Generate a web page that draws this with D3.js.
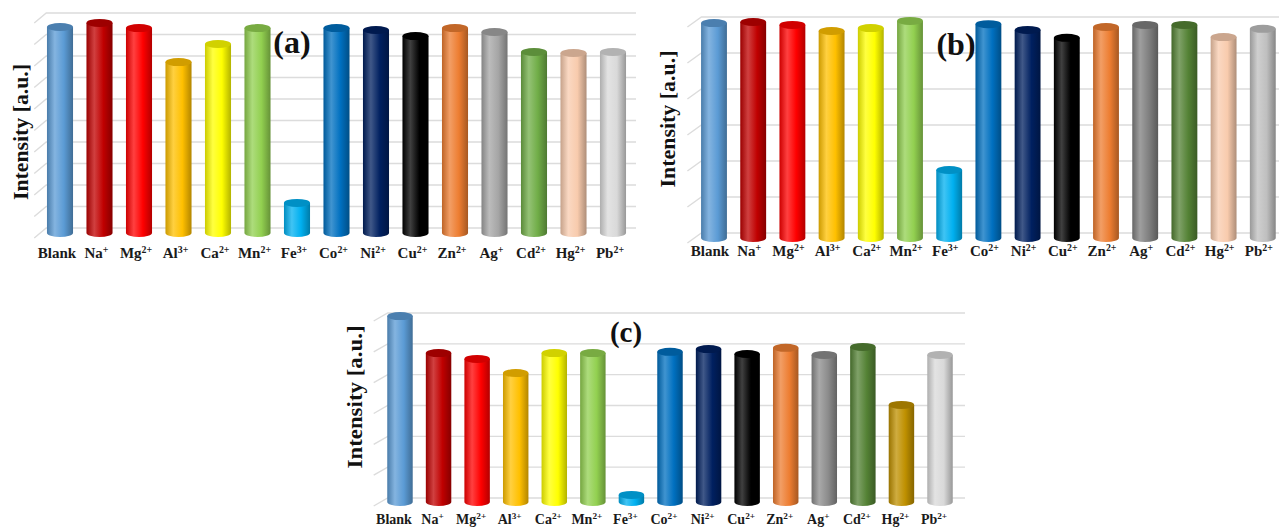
<!DOCTYPE html>
<html>
<head>
<meta charset="utf-8">
<script src="https://cdn.jsdelivr.net/npm/d3@7"></script>
<style>
body { margin: 0; background: #fff; }
svg text { font-family: "Liberation Serif", "Times New Roman", serif; font-weight: bold; }
</style>
</head>
<body>
<script>
// ions tested and their charges (drawn as superscripts)
const ions = ["Blank", "Na", "Mg", "Al", "Ca", "Mn", "Fe", "Co", "Ni", "Cu", "Zn", "Ag", "Cd", "Hg", "Pb"];
const charges = ["", "+", "2+", "3+", "2+", "2+", "3+", "2+", "2+", "2+", "2+", "+", "2+", "2+", "2+"];

// intensities, in gridline units
const valuesA = [9.58, 9.77, 9.53, 7.95, 8.79, 9.53, 1.40, 9.53, 9.44, 9.16, 9.53, 9.35, 8.42, 8.37, 8.42];
const valuesB = [5.97, 6.00, 5.92, 5.75, 5.83, 6.03, 1.89, 5.94, 5.78, 5.56, 5.86, 5.92, 5.92, 5.58, 5.81];
const valuesC = [6.03, 4.83, 4.64, 4.18, 4.83, 4.83, 0.23, 4.87, 4.96, 4.80, 5.00, 4.77, 5.03, 3.15, 4.77];

const colorsA = ["#5b9bd5", "#c00000", "#ff0000", "#ffc000", "#ffff00", "#92d050", "#00b0f0", "#0070c0",
  "#002060", "#000000", "#ed7d31", "#a5a5a5", "#70ad47", "#f8cbad", "#d9d9d9"];
const colorsB = ["#5b9bd5", "#c00000", "#ff0000", "#ffc000", "#ffff00", "#92d050", "#00b0f0", "#0070c0",
  "#002060", "#000000", "#ed7d31", "#7f7f7f", "#548235", "#f8cbad", "#bfbfbf"];
const colorsC = ["#5b9bd5", "#c00000", "#ff0000", "#ffc000", "#ffff00", "#92d050", "#00b0f0", "#0070c0",
  "#002060", "#000000", "#ed7d31", "#8c8c8c", "#548235", "#bf9000", "#d9d9d9"];

const maxA = 10, maxB = 6, maxC = 6;   // number of gridline intervals
const axisTitle = "Intensity [a.u.]";

const width = 1279, height = 528;
const svg = d3.select("body").append("svg")
  .attr("width", width)
  .attr("height", height);
const defs = svg.append("defs");

// layout of the three panels
const panels = [
  { tag: "(a)", values: valuesA, colors: colorsA, max: maxA,
    x0: 40.25, x1: 632.75, base: 233, top: 18, dx: 6, dy: 5, gridRight: 636,
    labelY: 258, labelSize: 15, labelShift: -3,
    titleX: 28, titleY: 132, titleSize: 21, titleLen: 136,
    tagX: 292, tagY: 53, tagSize: 32 },
  { tag: "(b)", values: valuesB, colors: colorsB, max: maxB,
    x0: 694.4, x1: 1282.4, base: 238, top: 22, dx: 7, dy: 5, gridRight: 1279,
    labelY: 256, labelSize: 15, labelShift: -4,
    titleX: 675, titleY: 119, titleSize: 21, titleLen: 137,
    tagX: 956, tagY: 55, tagSize: 32 },
  { tag: "(c)", values: valuesC, colors: colorsC, max: maxC,
    x0: 380.7, x1: 959.3, base: 502, top: 317, dx: 7, dy: 4, gridRight: 965,
    labelY: 524, labelSize: 14, labelShift: -6,
    titleX: 362, titleY: 397, titleSize: 21, titleLen: 143,
    tagX: 626, tagY: 342, tagSize: 29 }
];

panels.forEach(function(p, pi) {
  const x = d3.scaleBand()
    .domain(ions)
    .range([p.x0, p.x1])
    .paddingInner(0.34)
    .paddingOuter(0.17);
  const y = d3.scaleLinear()
    .domain([0, p.max])
    .range([p.base, p.top]);

  const g = svg.append("g").attr("class", "panel");

  // back wall gridlines with the little side-wall diagonal
  g.append("g").selectAll("path")
    .data(y.ticks(p.max))
    .join("path")
    .attr("fill", "none")
    .attr("stroke", "#dcdcdc")
    .attr("stroke-width", 1.4)
    .attr("d", function(t) {
      const yy = y(t);
      return "M" + (p.x0 - p.dx) + "," + (yy + p.dy) +
        "L" + (p.x0 + p.dx) + "," + (yy - p.dy) +
        "L" + p.gridRight + "," + (yy - p.dy);
    });

  // gradient per bar colour to fake the cylinder shading
  p.colors.forEach(function(c, i) {
    const grad = defs.append("linearGradient")
      .attr("id", "cyl" + pi + "_" + i)
      .attr("x1", "0%").attr("x2", "100%");
    const light = d3.interpolateRgb(c, "#fff");
    const dark = d3.interpolateRgb(c, "#000");
    grad.append("stop").attr("offset", "0%").attr("stop-color", dark(0.2));
    grad.append("stop").attr("offset", "30%").attr("stop-color", light(0.25));
    grad.append("stop").attr("offset", "65%").attr("stop-color", c);
    grad.append("stop").attr("offset", "100%").attr("stop-color", dark(0.3));
  });

  const rx = x.bandwidth() / 2, ry = 4;
  const bars = g.append("g").selectAll("g")
    .data(p.values)
    .join("g");

  bars.append("path")
    .attr("fill", function(d, i) { return "url(#cyl" + pi + "_" + i + ")"; })
    .attr("d", function(d, i) {
      const l = x(ions[i]), r = l + x.bandwidth();
      const yt = y(d), yb = y(0);
      return "M" + l + "," + yt + "L" + l + "," + yb +
        "A" + rx + "," + ry + " 0 0 0 " + r + "," + yb +
        "L" + r + "," + yt + "Z";
    });

  bars.append("ellipse")
    .attr("cx", function(d, i) { return x(ions[i]) + rx; })
    .attr("cy", function(d) { return y(d); })
    .attr("rx", rx)
    .attr("ry", ry)
    .attr("fill", function(d, i) { return d3.interpolateRgb(p.colors[i], "#000")(0.18); });

  // category labels with superscript charges
  const labels = g.append("g").selectAll("text")
    .data(ions)
    .join("text")
    .attr("x", function(d) { return x(d) + rx + p.labelShift; })
    .attr("y", p.labelY)
    .attr("text-anchor", "middle")
    .attr("font-size", p.labelSize)
    .attr("fill", "#1a1a1a");
  labels.append("tspan").text(function(d) { return d; });
  labels.append("tspan")
    .attr("dy", -5)
    .attr("font-size", p.labelSize * 0.66)
    .text(function(d, i) { return charges[i]; });

  // y axis title
  g.append("text")
    .attr("transform", "translate(" + p.titleX + "," + p.titleY + ") rotate(-90)")
    .attr("text-anchor", "middle")
    .attr("font-size", p.titleSize)
    .attr("textLength", p.titleLen)
    .attr("lengthAdjust", "spacingAndGlyphs")
    .attr("fill", "#111")
    .text(axisTitle);

  // panel tag
  g.append("text")
    .attr("x", p.tagX)
    .attr("y", p.tagY)
    .attr("text-anchor", "middle")
    .attr("font-size", p.tagSize)
    .attr("fill", "#111")
    .text(p.tag);
});
</script>
</body>
</html>
